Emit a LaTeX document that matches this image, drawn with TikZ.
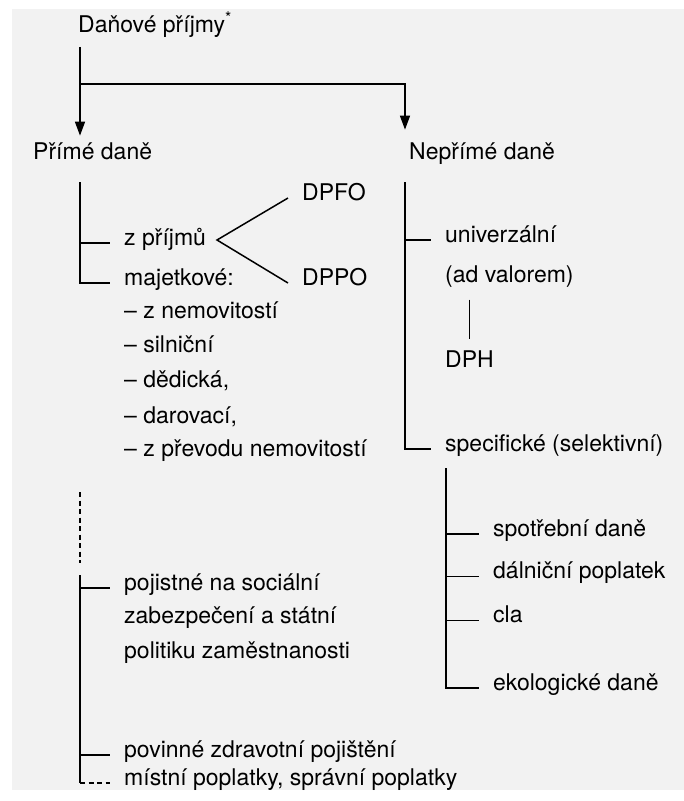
\documentclass[tikz,border=0pt]{standalone}
\usepackage{fontspec}
\setmainfont{TeX Gyre Heros}
\usepackage{tikz}
\usetikzlibrary{arrows.meta,calc}
\tikzset{
>={Triangle[length=14pt,width=10pt]},
polozka/.style={anchor=mid west,inner xsep=14pt,inner ysep=0pt,font=\fontsize{23}{26}\selectfont},
vetev/.style={line width=1.5pt},
tenka/.style={line width=1pt},
sipka/.style={->,line width=1.5pt},
carky/.style={line width=1.5pt,dash pattern=on 5pt off 3.5pt}}

\begin{document}
\begin{tikzpicture}[x=1pt,y=-1pt]
\useasboundingbox (0,0) rectangle (684,801);
\fill[black!5] (12,9) rectangle (684,790);

% koren
\node[polozka] (prijmy) at (64,30) {Daňové příjmy\textsuperscript{*}};
\node[polozka] (prime) at (19,157) {Přímé daně};
\node[polozka] (neprime) at (395,157) {Nepřímé daně};

\coordinate (rozcesti) at (80,84);
\coordinate (kmenP) at (405,182);
\draw[sipka,shorten <=9pt,shorten >=7pt] (rozcesti |- prijmy.south) -- (rozcesti |- prime.north);
\draw[sipka,shorten >=13pt] (rozcesti) -| (kmenP |- neprime.north);

% prime dane
\coordinate (kmenA) at (80,182);
\coordinate (vrchol) at (217,240);
\node[polozka] (zprijmu) at (110,243) {z příjmů};
\node[polozka] (majetkove) at (110,283) {majetkové:};
\node[polozka] (nemovitosti) at (110,316) {– z nemovitostí};
\node[polozka] (silnicni) at (110,350) {– silniční};
\node[polozka] (dedicka) at (110,385) {– dědická,};
\node[polozka] (darovaci) at (110,421) {– darovací,};
\node[polozka] (prevod) at (110,454) {– z převodu nemovitostí};
\node[polozka] (dpfo) at (288,198) {DPFO};
\node[polozka] (dppo) at (288,283) {DPPO};

\draw[vetev] (kmenA) |- (majetkove.mid west);
\draw[vetev] (kmenA |- zprijmu.mid west) -- (zprijmu.mid west);
\draw[vetev] (dpfo.mid west) -- (vrchol) -- (dppo.mid west);

% odvody
\coordinate (carkaA) at (80,492);
\coordinate (carkaB) at (80,563);
\coordinate (kmenC) at (80,575);
\node[polozka] (pojistne) at (110,588) {pojistné na sociální};
\node[polozka] (zabezpeceni) at (110,621) {zabezpečení a státní};
\node[polozka] (politiku) at (110,656) {politiku zaměstnanosti};
\node[polozka] (povinne) at (110,755) {povinné zdravotní pojištění};
\node[polozka] (mistni) at (110,783) {místní poplatky, správní poplatky};

\draw[carky] (carkaA) -- (carkaB);
\draw[vetev] (kmenC) -- (kmenC |- mistni.mid west);
\draw[vetev] (kmenC |- pojistne.mid west) -- (pojistne.mid west);
\draw[vetev] (kmenC |- povinne.mid west) -- (povinne.mid west);
\draw[carky] (kmenC |- mistni.mid west) -- (mistni.mid west);

% neprime dane
\node[polozka] (univerzalni) at (431,240) {univerzální};
\node[polozka] (advalorem) at (431,280) {(ad valorem)};
\node[polozka] (dph) at (431,365) {DPH};
\node[polozka] (specificke) at (431,449) {specifické (selektivní)};

\draw[vetev] (kmenP) |- (specificke.mid west);
\draw[vetev] (kmenP |- univerzalni.mid west) -- (univerzalni.mid west);
\draw[tenka,shorten <=12pt,shorten >=12pt] (advalorem.south -| dph.north) -- (dph.north);

\coordinate (kmenS) at (446,468);
\node[polozka] (spotrebni) at (479,534) {spotřební daně};
\node[polozka] (dalnicni) at (479,576) {dálniční poplatek};
\node[polozka] (cla) at (479,620) {cla};
\node[polozka] (ekologicke) at (479,688) {ekologické daně};

\draw[vetev] (kmenS) |- (ekologicke.mid west);
\draw[vetev] (kmenS |- spotrebni.mid west) -- (spotrebni.mid west);
\draw[tenka] (kmenS |- dalnicni.mid west) -- (dalnicni.mid west);
\draw[tenka] (kmenS |- cla.mid west) -- (cla.mid west);
\end{tikzpicture}
\end{document}
